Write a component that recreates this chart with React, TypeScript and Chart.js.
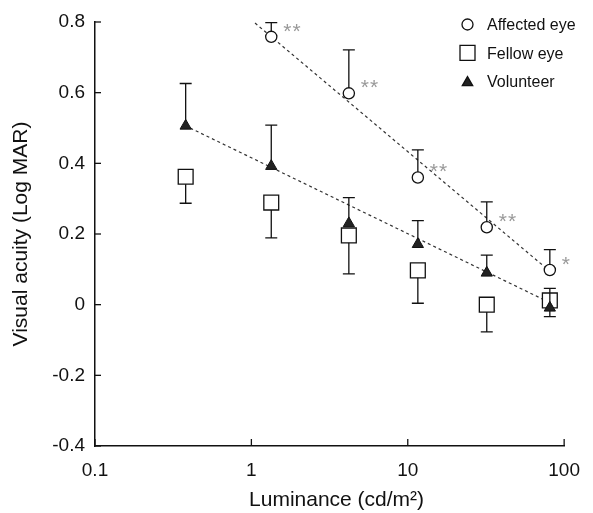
import React, { useEffect, useRef } from "react";
import { Chart, registerables } from "chart.js";

Chart.register(...registerables);

// ---- data ----
const luminance = [0.38, 1.34, 4.2, 11.6, 32, 81];
const affectedEye = [null, 0.758, 0.598, 0.36, 0.219, 0.098];
const affectedErr = [null, 0.04, 0.123, 0.078, 0.072, 0.058];
const significance = ["", "**", "**", "**", "**", "*"];
const fellowEye = [0.362, 0.289, 0.196, 0.097, 0.0, 0.012];
const fellowErr = [0.075, 0.1, 0.109, 0.093, 0.077, 0.046];
const volunteer = [0.506, 0.392, 0.23, 0.171, 0.09, -0.009];
const volunteerErr = [0.12, 0.116, 0.073, 0.067, 0.05, 0.055];
const affectedFitX = [1.055, 75];
const affectedFitY = [0.797, 0.107];
const volunteerFitX = [0.376, 75];
const volunteerFitY = [0.507, 0.013];
const xTickValues = [0.1, 1, 10, 100];
const seriesNames = ["Affected eye", "Fellow eye", "Volunteer"];
const xTitle = "Luminance (cd/m²)";
const yTitle = "Visual acuity (Log MAR)";

const FONT = "'Liberation Sans', Arial, Helvetica, sans-serif";
const INK = "#111";

function drawMarker(ctx: CanvasRenderingContext2D, kind: string, x: number, y: number) {
  ctx.save();
  ctx.lineWidth = 1.3;
  ctx.strokeStyle = INK;
  ctx.beginPath();
  if (kind === "circle") {
    ctx.fillStyle = "#fff";
    ctx.arc(x, y, 5.5, 0, Math.PI * 2);
  } else if (kind === "rect") {
    ctx.fillStyle = "#fff";
    ctx.rect(x - 7.5, y - 7.5, 15, 15);
  } else {
    ctx.fillStyle = "#222";
    const r = 6;
    ctx.moveTo(x, y - r);
    ctx.lineTo(x + r * 0.866, y + r / 2);
    ctx.lineTo(x - r * 0.866, y + r / 2);
    ctx.closePath();
  }
  ctx.fill();
  ctx.stroke();
  ctx.restore();
}

const errorBarPlugin = {
  id: "errorBars",
  beforeDatasetDraw(chart: any, args: any) {
    const ds = chart.data.datasets[args.index];
    if (!ds.errDir) return;
    const ctx = chart.ctx as CanvasRenderingContext2D;
    const ys = chart.scales.y;
    ctx.save();
    ctx.strokeStyle = INK;
    ctx.lineWidth = 1.3;
    args.meta.data.forEach((pt: any, i: number) => {
      const raw = ds.data[i];
      const yEnd = ys.getPixelForValue(raw.y + ds.errDir * raw.err);
      ctx.beginPath();
      ctx.moveTo(pt.x, pt.y);
      ctx.lineTo(pt.x, yEnd);
      ctx.moveTo(pt.x - 6, yEnd);
      ctx.lineTo(pt.x + 6, yEnd);
      ctx.stroke();
    });
    ctx.restore();
  },
  afterDraw(chart: any) {
    const ctx = chart.ctx as CanvasRenderingContext2D;
    const area = chart.chartArea;
    const xs = chart.scales.x;
    const ys = chart.scales.y;
    ctx.save();
    // inward tick marks
    ctx.strokeStyle = INK;
    ctx.lineWidth = 1.3;
    ys.ticks.forEach((t: any) => {
      const py = ys.getPixelForValue(t.value);
      ctx.beginPath();
      ctx.moveTo(area.left, py);
      ctx.lineTo(area.left + 6, py);
      ctx.stroke();
    });
    xs.ticks.forEach((t: any) => {
      const px = xs.getPixelForValue(t.value);
      ctx.beginPath();
      ctx.moveTo(px, area.bottom);
      ctx.lineTo(px, area.bottom - 7);
      ctx.stroke();
    });
    // x axis title (slightly right of the plot centre, as in the reference)
    ctx.fillStyle = INK;
    ctx.font = `21px ${FONT}`;
    ctx.textAlign = "center";
    ctx.textBaseline = "alphabetic";
    ctx.fillText(xTitle, (area.left + area.right) / 2 + 7, 506);
    // significance asterisks
    const meta = chart.getDatasetMeta(0);
    const ds = chart.data.datasets[0];
    ctx.fillStyle = "#999";
    ctx.font = `21px ${FONT}`;
    ctx.textAlign = "left";
    ctx.textBaseline = "alphabetic";
    try { (ctx as any).letterSpacing = "1px"; } catch (e) {}
    meta.data.forEach((pt: any, i: number) => {
      const s = ds.data[i].sig;
      if (s) ctx.fillText(s, pt.x + 12, pt.y + 1);
    });
    try { (ctx as any).letterSpacing = "0px"; } catch (e) {}
    // legend
    const kinds = ["circle", "rect", "triangle"];
    const lx = 467.5;
    const ly0 = 24.5;
    const step = 28.3;
    seriesNames.forEach((name, i) => {
      const cy = ly0 + i * step;
      drawMarker(ctx, kinds[i], lx, cy + (i === 2 ? 1.5 : 0));
      ctx.fillStyle = INK;
      ctx.font = `16px ${FONT}`;
      ctx.textAlign = "left";
      ctx.textBaseline = "alphabetic";
      ctx.fillText(name, 487, cy + 5.8);
    });
    ctx.restore();
  },
};

export default function App() {
  const canvasRef = useRef<HTMLCanvasElement | null>(null);

  useEffect(() => {
    if (!canvasRef.current) return;
    const affectedData = luminance
      .map((x, i) => ({ x, y: affectedEye[i], err: affectedErr[i], sig: significance[i] }))
      .filter((d) => d.y !== null);
    const fellowData = luminance.map((x, i) => ({ x, y: fellowEye[i], err: fellowErr[i] }));
    const volunteerData = luminance.map((x, i) => ({ x, y: volunteer[i], err: volunteerErr[i] }));
    const affectedFit = affectedFitX.map((x, i) => ({ x, y: affectedFitY[i] }));
    const volunteerFit = volunteerFitX.map((x, i) => ({ x, y: volunteerFitY[i] }));

    const chart = new Chart(canvasRef.current, {
      type: "scatter",
      data: {
        datasets: [
          {
            label: seriesNames[0],
            data: affectedData as any,
            errDir: 1,
            pointStyle: "circle",
            pointRadius: 5.6,
            pointBackgroundColor: "#fff",
            pointBorderColor: INK,
            pointBorderWidth: 1.3,
            showLine: false,
          } as any,
          {
            label: seriesNames[2],
            data: volunteerData as any,
            errDir: 1,
            pointStyle: "triangle",
            pointRadius: 6.5,
            pointBackgroundColor: "#222",
            pointBorderColor: INK,
            pointBorderWidth: 1,
            showLine: false,
          } as any,
          {
            label: seriesNames[1],
            data: fellowData as any,
            errDir: -1,
            pointStyle: "rect",
            pointRadius: 10.5,
            pointBackgroundColor: "#fff",
            pointBorderColor: INK,
            pointBorderWidth: 1.3,
            showLine: false,
          } as any,
          {
            label: "fit affected",
            data: affectedFit as any,
            showLine: true,
            pointRadius: 0,
            borderColor: "#333",
            borderWidth: 1.2,
            borderDash: [3, 3],
          } as any,
          {
            label: "fit volunteer",
            data: volunteerFit as any,
            showLine: true,
            pointRadius: 0,
            borderColor: "#333",
            borderWidth: 1.2,
            borderDash: [3, 3],
          } as any,
        ],
      },
      options: {
        animation: false,
        responsive: false,
        devicePixelRatio: 1,
        clip: false as any,
        layout: { padding: { top: 22, right: 20, left: 0, bottom: 0 } },
        plugins: {
          legend: { display: false },
          tooltip: { enabled: false },
        },
        font: { family: FONT },
        scales: {
          x: {
            type: "logarithmic",
            min: 0.1,
            max: 100,
            afterBuildTicks: (s: any) => {
              s.ticks = xTickValues.map((v) => ({ value: v }));
            },
            afterFit: (s: any) => {
              s.height = 67;
            },
            grid: { display: false, drawTicks: false },
            border: { display: true, color: INK, width: 1.5 },
            ticks: {
              autoSkip: false,
              maxRotation: 0,
              padding: 13,
              color: INK,
              font: { size: 19, family: FONT },
              callback: (v: any) => String(v),
            },
            title: { display: false },
          },
          y: {
            type: "linear",
            min: -0.4,
            max: 0.8,
            afterFit: (s: any) => {
              s.width = 95;
            },
            grid: { display: false, drawTicks: false },
            border: { display: true, color: INK, width: 1.5 },
            ticks: {
              stepSize: 0.2,
              padding: 10,
              color: INK,
              font: { size: 19, family: FONT },
              callback: (v: any) => (Math.abs(v) < 1e-9 ? "0" : Number(v).toFixed(1)),
            },
            title: {
              display: true,
              text: yTitle,
              color: INK,
              font: { size: 21, family: FONT },
              padding: { top: 9, bottom: 0 },
            },
          },
        },
      } as any,
      plugins: [errorBarPlugin],
    });
    return () => chart.destroy();
  }, []);

  return (
    <div
      style={{
        position: "fixed",
        left: 0,
        top: 0,
        width: 593,
        height: 513,
        background: "#fff",
      }}
    >
      <canvas ref={canvasRef} width={593} height={513} style={{ display: "block", width: 593, height: 513 }} />
    </div>
  );
}
